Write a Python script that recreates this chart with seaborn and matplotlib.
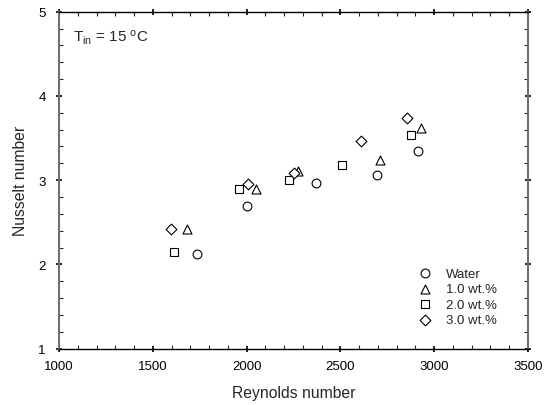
import matplotlib
matplotlib.use("Agg")
import matplotlib.pyplot as plt
import pandas as pd
import seaborn as sns
from matplotlib.ticker import MultipleLocator

# data
fluids = ["Water", "1.0 wt.%", "2.0 wt.%", "3.0 wt.%"]
re_water = [1737, 2000, 2370, 2697, 2915]
nu_water = [2.12, 2.69, 2.97, 3.06, 3.35]
re_1 = [1681, 2048, 2274, 2711, 2928]
nu_1 = [2.42, 2.89, 3.11, 3.24, 3.62]
re_2 = [1613, 1960, 2226, 2510, 2875]
nu_2 = [2.15, 2.90, 3.00, 3.18, 3.54]
re_3 = [1595, 2006, 2253, 2608, 2853]
nu_3 = [2.42, 2.95, 3.09, 3.46, 3.74]

frames = []
for name, r, n in zip(fluids, [re_water, re_1, re_2, re_3], [nu_water, nu_1, nu_2, nu_3]):
    frames.append(pd.DataFrame({"Re": r, "Nu": n, "fluid": name}))
df = pd.concat(frames, ignore_index=True)

sns.set_style("ticks")
plt.rcParams["font.family"] = ["Liberation Sans", "DejaVu Sans"]
plt.rcParams["mathtext.default"] = "regular"

fig = plt.figure(figsize=(5.49, 4.06), dpi=100)
ax = fig.add_axes([0.1075, 0.1387, 0.8542, 0.83])

markers = {"Water": "o", "1.0 wt.%": "^", "2.0 wt.%": "s", "3.0 wt.%": "D"}
sizes = {"Water": 40, "1.0 wt.%": 42, "2.0 wt.%": 28, "3.0 wt.%": 30}
for name in fluids:
    sub = df[df.fluid == name]
    sns.scatterplot(data=sub, x="Re", y="Nu", marker=markers[name], s=sizes[name],
                    facecolor="white", edgecolor="black", linewidth=0.8,
                    label=name, ax=ax, zorder=3)

ax.set_xlim(1000, 3500)
ax.set_ylim(1, 5)
ax.xaxis.set_major_locator(MultipleLocator(500))
ax.xaxis.set_minor_locator(MultipleLocator(100))
ax.yaxis.set_major_locator(MultipleLocator(1))
ax.yaxis.set_minor_locator(MultipleLocator(0.2))
ax.tick_params(which="major", direction="inout", length=5, width=1.2,
               top=True, right=True, labelsize=9.5, colors="black")
ax.tick_params(which="minor", direction="in", length=3, width=0.8,
               top=True, right=True)
ax.tick_params(axis="x", which="major", pad=6)
ax.tick_params(axis="y", which="major", pad=7)

for side in ["top", "bottom"]:
    ax.spines[side].set_color("black")
    ax.spines[side].set_linewidth(1.0)
for side in ["left", "right"]:
    ax.spines[side].set_color("#707070")
    ax.spines[side].set_linewidth(1.5)
    ax.spines[side].set_visible(True)

ax.set_xlabel("Reynolds number", fontsize=11.3, labelpad=9)
ax.set_ylabel("Nusselt number", fontsize=11.3, labelpad=7.5)

ax.text(0.03, 0.912, "T$_{in}$ = 15 $^{o}$C", transform=ax.transAxes,
        fontsize=11, va="baseline")

leg = ax.legend(loc="lower right", bbox_to_anchor=(0.934, 0.067), frameon=False,
                fontsize=9.5, handletextpad=1.0, labelspacing=0.25, handlelength=1.2,
                borderpad=0, borderaxespad=0)

fig.savefig("out.png", dpi=100)
